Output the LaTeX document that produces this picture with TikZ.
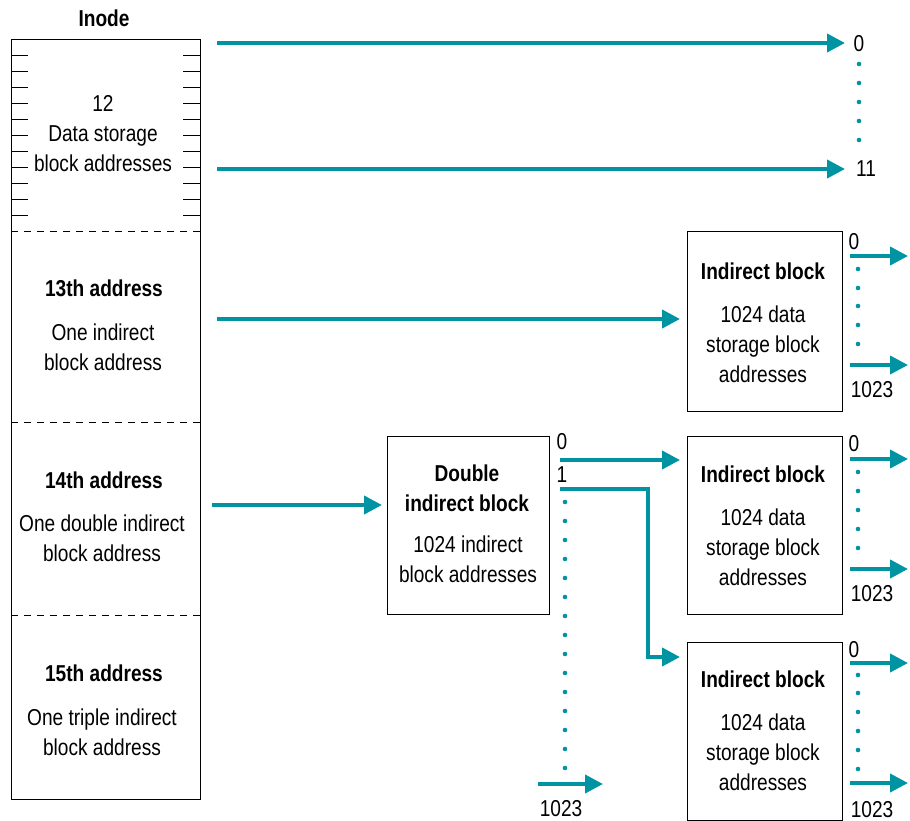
\documentclass[tikz,border=0pt]{standalone}
\usepackage{fontspec}
\setmainfont[FakeStretch=0.83]{Liberation Sans}
\usetikzlibrary{arrows.meta}
\definecolor{arrteal}{RGB}{0,148,163}
\tikzset{
  blockbox/.style={draw=black, line width=1.2pt, inner sep=0pt, anchor=north west},
  arr/.style={draw=arrteal, line width=4pt, -{Triangle[length=18pt,width=18pt]}},
  dotmark/.style={fill=arrteal, draw=none},
  txt/.style={align=center, inner sep=0pt},
  bold/.style={txt, font=\fontsize{23}{30}\selectfont\bfseries},
  tick/.style={line width=0.9pt},
  sep/.style={line width=1pt, dash pattern=on 7pt off 6pt}
}
\begin{document}
\begin{tikzpicture}[x=1pt,y=-1pt,font=\fontsize{23}{30}\selectfont]
\useasboundingbox (0,0) rectangle (910,821);

% Inode
\node[bold] (inodetitle) at (104,18) {Inode};
\node[blockbox, minimum width=189pt, minimum height=760pt] (inode) at (11,39) {};
\foreach \k in {1,...,11} {
  \draw[tick] (11,39+16*\k) -- ++(17,0);
  \draw[tick] (183,39+16*\k) -- ++(17,0);
}
\draw[sep] (11,231) -- (200,231);
\draw[sep] (11,422) -- (200,422);
\draw[sep] (11,615) -- (200,615);

\node[txt] (direct) at (103,134) {12\\Data storage\\block addresses};
\node[bold] (h13) at (104,288) {13th address};
\node[txt] (t13) at (103,347) {One indirect\\block address};
\node[bold] (h14) at (104,480) {14th address};
\node[txt] (t14) at (102,538) {One double indirect\\block address};
\node[bold] (h15) at (104,673) {15th address};
\node[txt] (t15) at (102,732) {One triple indirect\\block address};

% Direct addresses
\coordinate (a0s) at (217,43);
\coordinate (a0e) at (845,43);
\coordinate (a11s) at (217,169);
\coordinate (a11e) at (845,169);
\draw[arr] (a0s) -- (a0e);
\draw[arr] (a11s) -- (a11e);
\node[txt] (l0) at (859,44) {0};
\node[txt] (l11) at (866,169) {11};
\foreach \y in {64,83,102,121,140} \fill[dotmark] (859,\y) circle (2.3pt);

% Indirect block 1
\node[blockbox, minimum width=155pt, minimum height=180pt] (ib1) at (687,231) {};
\node[bold] (ib1h) at (763,271) {Indirect block};
\node[txt] (ib1t) at (763,344) {1024 data\\storage block\\addresses};
\coordinate (a13s) at (217,319);
\draw[arr, shorten >=7pt] (a13s) -- (a13s -| ib1.west);

% Double indirect block
\node[blockbox, minimum width=162pt, minimum height=178pt] (db) at (387,436) {};
\node[bold] (dbh) at (467,488) {Double\\indirect block};
\node[txt] (dbt) at (468,559) {1024 indirect\\block addresses};
\coordinate (a14s) at (212,505);
\draw[arr, shorten >=5pt] (a14s) -- (a14s -| db.west);

% Indirect block 2 and 3
\node[blockbox, minimum width=155pt, minimum height=178pt] (ib2) at (687,436) {};
\node[bold] (ib2h) at (763,474) {Indirect block};
\node[txt] (ib2t) at (763,547) {1024 data\\storage block\\addresses};
\node[blockbox, minimum width=155pt, minimum height=178pt] (ib3) at (687,642) {};
\node[bold] (ib3h) at (763,679) {Indirect block};
\node[txt] (ib3t) at (763,752) {1024 data\\storage block\\addresses};

% Double indirect outputs
\node[txt] (d0l) at (562,442) {0};
\node[txt] (d1l) at (562,475) {1};
\coordinate (d0s) at (560,460);
\draw[arr, shorten >=7pt] (d0s) -- (d0s -| ib2.west);
\coordinate (d1s) at (560,489);
\coordinate (d1c) at (648,657);
\draw[arr, shorten >=7pt] (d1s) -| (d1c) -- (d1c -| ib3.west);
\foreach \k in {0,...,14} \fill[dotmark] (565,502+19*\k) circle (2.3pt);
\coordinate (dls) at (538,784);
\coordinate (dle) at (603,784);
\draw[arr] (dls) -- (dle);
\node[txt] (dll) at (561,809) {1023};

% Indirect block outputs
\foreach \b/\top/\bot/\lz/\ll/\dots in {
  ib1/256/365/242/390/{269,288,306,325,344},
  ib2/459/569/444/594/{472,491,510,529,548},
  ib3/663/783/650/810/{675,693,712,731,750,769}} {
  \node[txt] (\b z) at (854,\lz) {0};
  \coordinate (\b s0) at (850,\top);
  \coordinate (\b e0) at (908,\top);
  \draw[arr] (\b s0) -- (\b e0);
  \coordinate (\b s1) at (850,\bot);
  \coordinate (\b e1) at (908,\bot);
  \draw[arr] (\b s1) -- (\b e1);
  \node[txt] (\b l) at (872,\ll) {1023};
  \foreach \y in \dots \fill[dotmark] (858,\y) circle (2.3pt);
}
\end{tikzpicture}
\end{document}
